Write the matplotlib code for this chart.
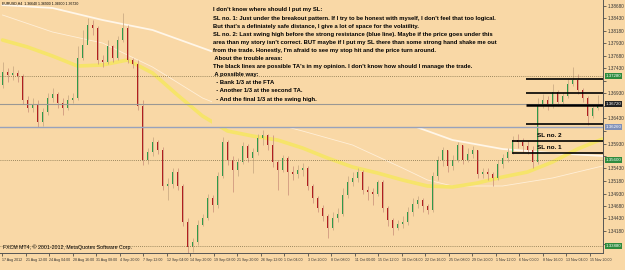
import matplotlib
matplotlib.use("Agg")
import matplotlib.pyplot as plt
import matplotlib.transforms as mtransforms
from matplotlib.patches import Rectangle
import numpy as np

# candles (roughly 8h each), EURUSD-ish prices
opens_first = 1.3710
closes = [1.3736, 1.3730, 1.3734, 1.3728, 1.3680, 1.3664, 1.3672, 1.3636, 1.3656, 1.3684,
          1.3692, 1.3674, 1.3664, 1.3680, 1.3684, 1.3764, 1.3790, 1.3830, 1.3824, 1.3760,
          1.3756, 1.3788, 1.3764, 1.3800, 1.3824, 1.3760, 1.3752, 1.3668, 1.3560, 1.3576,
          1.3596, 1.3580, 1.3508, 1.3512, 1.3536, 1.3508, 1.3436, 1.3386, 1.3396, 1.3430,
          1.3444, 1.3484, 1.3470, 1.3528, 1.3596, 1.3560, 1.3540, 1.3556, 1.3588, 1.3564,
          1.3576, 1.3604, 1.3610, 1.3590, 1.3556, 1.3540, 1.3564, 1.3536, 1.3532, 1.3540,
          1.3544, 1.3508, 1.3484, 1.3464, 1.3448, 1.3424, 1.3444, 1.3452, 1.3490, 1.3516,
          1.3524, 1.3536, 1.3500, 1.3496, 1.3492, 1.3516, 1.3464, 1.3440, 1.3424, 1.3432,
          1.3436, 1.3456, 1.3472, 1.3480, 1.3468, 1.3460, 1.3528, 1.3560, 1.3580, 1.3548,
          1.3560, 1.3590, 1.3560, 1.3572, 1.3580, 1.3532, 1.3536, 1.3532, 1.3524, 1.3552,
          1.3564, 1.3576, 1.3600, 1.3596, 1.3588, 1.3580, 1.3556, 1.3672, 1.3680, 1.3668,
          1.3696, 1.3676, 1.3688, 1.3712, 1.3720, 1.3700, 1.3684, 1.3648, 1.3664, 1.3672]
highs = [1.3756, 1.3744, 1.3748, 1.3740, 1.3732, 1.3688, 1.3684, 1.3680, 1.3664, 1.3694,
         1.3704, 1.3696, 1.3684, 1.3690, 1.3694, 1.3788, 1.3820, 1.3844, 1.3840, 1.3828,
         1.3770, 1.3800, 1.3790, 1.3808, 1.3854, 1.3830, 1.3764, 1.3760, 1.3680, 1.3584,
         1.3606, 1.3600, 1.3586, 1.3524, 1.3544, 1.3544, 1.3512, 1.3444, 1.3404, 1.3440,
         1.3452, 1.3492, 1.3490, 1.3536, 1.3606, 1.3600, 1.3568, 1.3564, 1.3596, 1.3592,
         1.3584, 1.3612, 1.3620, 1.3612, 1.3610, 1.3560, 1.3570, 1.3568, 1.3548, 1.3550,
         1.3554, 1.3548, 1.3512, 1.3488, 1.3470, 1.3452, 1.3456, 1.3464, 1.3504, 1.3528,
         1.3536, 1.3544, 1.3540, 1.3508, 1.3504, 1.3520, 1.3520, 1.3468, 1.3444, 1.3440,
         1.3448, 1.3466, 1.3484, 1.3488, 1.3484, 1.3472, 1.3536, 1.3568, 1.3586, 1.3580,
         1.3570, 1.3596, 1.3590, 1.3584, 1.3588, 1.3580, 1.3544, 1.3544, 1.3536, 1.3560,
         1.3572, 1.3584, 1.3608, 1.3612, 1.3604, 1.3600, 1.3588, 1.3684, 1.3692, 1.3688,
         1.3712, 1.3700, 1.3696, 1.3724, 1.3746, 1.3732, 1.3704, 1.3688, 1.3672, 1.3690]
lows = [1.3704, 1.3716, 1.3720, 1.3716, 1.3672, 1.3656, 1.3656, 1.3626, 1.3628, 1.3650,
        1.3676, 1.3664, 1.3650, 1.3660, 1.3674, 1.3680, 1.3760, 1.3800, 1.3810, 1.3752,
        1.3746, 1.3752, 1.3756, 1.3760, 1.3796, 1.3754, 1.3744, 1.3660, 1.3550, 1.3552,
        1.3568, 1.3572, 1.3500, 1.3480, 1.3504, 1.3500, 1.3428, 1.3374, 1.3376, 1.3390,
        1.3428, 1.3440, 1.3456, 1.3464, 1.3524, 1.3550, 1.3496, 1.3528, 1.3552, 1.3556,
        1.3534, 1.3570, 1.3590, 1.3580, 1.3546, 1.3500, 1.3536, 1.3490, 1.3520, 1.3524,
        1.3528, 1.3500, 1.3474, 1.3456, 1.3438, 1.3404, 1.3420, 1.3436, 1.3448, 1.3484,
        1.3508, 1.3516, 1.3492, 1.3480, 1.3470, 1.3488, 1.3456, 1.3428, 1.3410, 1.3420,
        1.3424, 1.3430, 1.3448, 1.3464, 1.3456, 1.3452, 1.3456, 1.3520, 1.3548, 1.3536,
        1.3540, 1.3556, 1.3552, 1.3556, 1.3564, 1.3524, 1.3524, 1.3520, 1.3508, 1.3520,
        1.3544, 1.3556, 1.3572, 1.3584, 1.3576, 1.3572, 1.3544, 1.3552, 1.3664, 1.3660,
        1.3664, 1.3668, 1.3672, 1.3684, 1.3708, 1.3692, 1.3676, 1.3630, 1.3644, 1.3660]

# moving averages sampled along the chart (candle index, price)
yellow_ma_x = [0, 5, 10, 15, 20, 25, 30, 35, 40, 45, 50, 55, 60, 65, 70, 75, 80, 85, 90, 95, 100, 105, 110, 115, 120]
yellow_ma = [1.3800, 1.3786, 1.3768, 1.3748, 1.3750, 1.3760, 1.3734, 1.3690, 1.3648, 1.3618,
             1.3608, 1.3600, 1.3584, 1.3564, 1.3546, 1.3534, 1.3520, 1.3508, 1.3506, 1.3514,
             1.3526, 1.3536, 1.3556, 1.3582, 1.3602]
white_ma_x = [0, 10, 20, 30, 40, 50, 60, 70, 80, 90, 100, 110, 120]
white_ma = [1.3870, 1.3864, 1.3840, 1.3820, 1.3784, 1.3748, 1.3712, 1.3674, 1.3636, 1.3600,
            1.3582, 1.3574, 1.3568]
thin_ma_x = [0, 10, 20, 30, 40, 50, 60, 70, 80, 85, 90, 100, 110, 120]
thin_ma = [1.3850, 1.3816, 1.3794, 1.3746, 1.3684, 1.3644, 1.3618, 1.3590, 1.3544, 1.3520,
           1.3508, 1.3508, 1.3524, 1.3548]

# horizontal objects
dotted_levels = [1.3728, 1.3560, 1.3388]
resistance_level = 1.3626
trouble_areas = [1.3722, 1.3694, 1.3670, 1.3632]
sl_levels = [1.3598, 1.3574]
sl_names = ["SL no. 2", "SL no. 1"]

date_labels = ["17 Aug 2012", "21 Aug 12:00", "24 Aug 04:00", "28 Aug 16:00", "31 Aug 08:00",
               "4 Sep 20:00", "7 Sep 12:00", "12 Sep 04:00", "14 Sep 20:00", "19 Sep 08:00",
               "21 Sep 20:00", "26 Sep 12:00", "1 Oct 04:00", "3 Oct 20:00", "8 Oct 08:00",
               "11 Oct 00:00", "15 Oct 12:00", "18 Oct 04:00", "22 Oct 16:00", "25 Oct 08:00",
               "29 Oct 20:00", "1 Nov 12:00", "6 Nov 00:00", "8 Nov 16:00", "13 Nov 04:00",
               "15 Nov 20:00"]

note_lines = [
    "I don't know where should I put my SL:",
    "SL no. 1: Just under the breakout pattern. If I try to be honest with myself, I don't feel that too logical.",
    "But that's a definiately safe distance, I give a lot of space for the volatility.",
    "SL no. 2: Last swing high before the strong resistance (blue line). Maybe if the price goes under this",
    "area than my story isn't correct. BUT maybe if I put my SL there than some strong hand shake me out",
    "from the trade. Honestly, I'm afraid to see my stop hit and the price turn around.",
    " About the trouble areas:",
    "The black lines are possible TA's in my opinion. I don't know how should I manage the trade.",
    " A possible way:",
    "  - Bank 1/3 at the FTA",
    "  - Another 1/3 at the second TA.",
    "  - And the final 1/3 at the swing high.",
]

BG = "#F9D8A6"
UP = "#2F9A4A"
DOWN = "#B01E1E"
SMALL = ["Liberation Sans", "DejaVu Sans"]

W, H = 625, 270
fig = plt.figure(figsize=(W / 100, H / 100), dpi=100)
fig.patch.set_facecolor(BG)
ax = fig.add_axes([0, 17 / H, 603 / W, 253 / H])
ax.set_facecolor(BG)

n = len(closes)
opens = [opens_first] + closes[:-1]
ax.set_xlim(-0.5, 120.1)
ax.set_ylim(1.3374, 1.3880)

# moving averages (behind the note box)
ax.plot(white_ma_x, white_ma, color="#FFF6E8", lw=1.3, zorder=2)
ax.plot(thin_ma_x, thin_ma, color="#FFEFD8", lw=0.6, zorder=2)
ax.plot(yellow_ma_x, yellow_ma, color="#F6E46A", lw=2.6, zorder=2, solid_capstyle="round")

# note box covers the indicators
ax.add_patch(Rectangle((41.9, 1.3624), 80, 0.03, facecolor=BG, edgecolor="none", zorder=3))

# candles
for i in range(n):
    o, c = opens[i], closes[i]
    up = c >= o
    ax.vlines(i, lows[i], highs[i], color="#C8A882" if up else "#CC927C", lw=0.55, zorder=4)
    ax.bar(i, max(abs(c - o), 0.00012), bottom=min(o, c), width=0.34,
           color=UP if up else DOWN, lw=0, zorder=4)

# horizontal lines
for lv in dotted_levels:
    ax.axhline(lv, color="#7E6E48", lw=0.6, ls=(0, (1, 1.5)), zorder=5)
ax.axhline(closes[-1], color="#9A9894", lw=0.8, zorder=5)
ax.axhline(resistance_level, color="#98A2BC", lw=1.0, zorder=5)
for k, lv in enumerate(trouble_areas):
    ax.hlines(lv, 104.6, 120.1, color="black", lw=1.8 if k == 2 else 1.2, zorder=6)
for lv, name in zip(sl_levels, sl_names):
    ax.hlines(lv, 101.9, 120.1, color="black", lw=1.2, zorder=6)
    ax.text(106.9, lv + 0.0011, name, fontsize=4.6, fontweight="bold", va="center",
            family=SMALL, zorder=7)

# note text
for k, line in enumerate(note_lines):
    ax.text(213 / 603, 1 - (10 + 8.1 * k) / 253, line, transform=ax.transAxes,
            fontsize=4.2, fontweight="bold", va="center", ha="left",
            family=SMALL, zorder=7)

# header and copyright
ax.text(2 / 603, 1 - 4 / 253,
        "EURUSD,H4  %.5f %.5f %.5f %.5f" % (opens[-1], highs[-1], lows[-1], closes[-1]),
        transform=ax.transAxes, fontsize=2.5, va="center", family=SMALL, zorder=7)
ax.text(3 / 603, 3 / 253, "FXCM MT4, \u00a9 2001-2012, MetaQuotes Software Corp.",
        transform=ax.transAxes, fontsize=3.8, va="bottom", family=SMALL, zorder=7)

# axes styling
for s in ["left", "top"]:
    ax.spines[s].set_visible(False)
for s in ["right", "bottom"]:
    ax.spines[s].set_color("#555555")
    ax.spines[s].set_linewidth(0.7)

tag_levels = dotted_levels + [closes[-1], resistance_level]
tag_colors = ["#2E8B3E", "#2E8B3E", "#2E8B3E", "#222222", "#8090B8"]

# scale labels, skipping the ones hidden under a price tag
yt = [1.3868 - 0.0025 * k for k in range(20)]
ax.yaxis.tick_right()
ax.set_yticks(yt)
ax.set_yticklabels(["" if min(abs(v - t) for t in tag_levels) < 0.0013 else "%.5f" % v for v in yt],
                   family=SMALL)
ax.tick_params(axis="y", labelsize=3.3, length=2, width=0.5, pad=1.5, colors="#333333")

xt = [-0.1 + 4.704 * k for k in range(len(date_labels))]
ax.set_xticks(xt)
ax.set_xticklabels(date_labels, ha="left", family=SMALL)
ax.tick_params(axis="x", labelsize=2.6, length=2, width=0.5, pad=1.5, colors="#333333")

# price tags on the scale
trans = mtransforms.blended_transform_factory(ax.transAxes, ax.transData)
for lv, col in zip(tag_levels, tag_colors):
    ax.text(1.004, lv, "%.5f" % lv, transform=trans, fontsize=3.2, color="white",
            va="center", ha="left", family=SMALL, zorder=8, clip_on=False,
            bbox=dict(boxstyle="square,pad=0.15", facecolor=col, edgecolor="none"))

fig.savefig("out.png", dpi=100, facecolor=BG)
